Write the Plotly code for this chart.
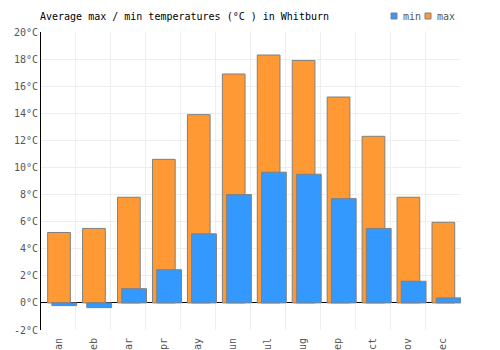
import plotly.graph_objects as go

months = ["Jan", "Feb", "Mar", "Apr", "May", "Jun", "Jul", "Aug", "Sep", "Oct", "Nov", "Dec"]
max_temps = [5.2, 5.5, 7.8, 10.6, 13.9, 16.9, 18.3, 17.9, 15.2, 12.3, 7.8, 5.95]
min_temps = [-0.2, -0.35, 1.05, 2.45, 5.1, 8.0, 9.65, 9.5, 7.7, 5.5, 1.6, 0.37]
y_ticks = list(range(-2, 21, 2))
y_labels = [f"{v}°C" for v in y_ticks]
series_names = ["min", "max"]
series_colors = ["#3399FF", "#FF9933"]

FONT = "DejaVu Sans Mono"
W, H = 500, 350
n = len(months)

fig = go.Figure()
fig.add_trace(go.Bar(
    x=months, y=max_temps, name="max", showlegend=False,
    marker=dict(color="#FF9933", line=dict(color="#808080", width=1)),
    width=[0.65] * n, offset=[-0.31] * n,
))
fig.add_trace(go.Bar(
    x=months, y=min_temps, name="min", showlegend=False,
    marker=dict(color="#3399FF", line=dict(color="#808080", width=1)),
    width=[0.71] * n, offset=[-0.19] * n,
))

# custom compact legend (swatch + label), positioned in container pixels
plot_left, plot_w = 41, 420
plot_top, plot_h = 32, 298
yc = 1 + (plot_top - 16) / plot_h
legend_x = [391, 425]
shapes = []
annotations = []
for name, color, lx in zip(series_names, series_colors, legend_x):
    shapes.append(dict(type="rect", xref="paper", yref="paper",
                       x0=(lx - plot_left) / plot_w, x1=(lx + 6 - plot_left) / plot_w,
                       y0=yc - 3 / plot_h, y1=yc + 3 / plot_h,
                       line=dict(color="#808080", width=1), fillcolor=color))
    annotations.append(dict(text=name, xref="paper", yref="paper",
                            x=(lx + 10 - plot_left) / plot_w, xanchor="left",
                            y=yc, yanchor="middle", showarrow=False,
                            font=dict(family=FONT, size=10, color="#555555")))

fig.update_layout(
    template="none",
    width=W, height=H,
    margin=dict(l=41, r=39, t=32, b=20),
    barmode="overlay",
    paper_bgcolor="white", plot_bgcolor="white",
    font=dict(family=FONT, size=10, color="#555555"),
    title=dict(text="Average max / min temperatures (°C ) in Whitburn",
               x=40 / W, xanchor="left", xref="container",
               y=1 - 16 / H, yanchor="middle", yref="container",
               font=dict(family=FONT, size=10, color="#000000")),
    showlegend=False,
    shapes=shapes,
    annotations=annotations,
    xaxis=dict(
        type="category", tickson="boundaries", showgrid=True,
        gridcolor="#eeeeee", gridwidth=1, tickangle=-90,
        ticks="", automargin=False, showline=False, zeroline=False,
        ticklabelstandoff=5, tickfont=dict(family=FONT, size=10, color="#555555"),
    ),
    yaxis=dict(
        range=[-2, 20], tickvals=y_ticks, ticktext=y_labels,
        showgrid=True, gridcolor="#eeeeee", gridwidth=1,
        zeroline=True, zerolinecolor="#000000", zerolinewidth=1,
        showline=True, linecolor="#000000", linewidth=1,
        ticks="", automargin=False,
        tickfont=dict(family=FONT, size=10, color="#555555"),
    ),
)

fig.write_html("out.html")
